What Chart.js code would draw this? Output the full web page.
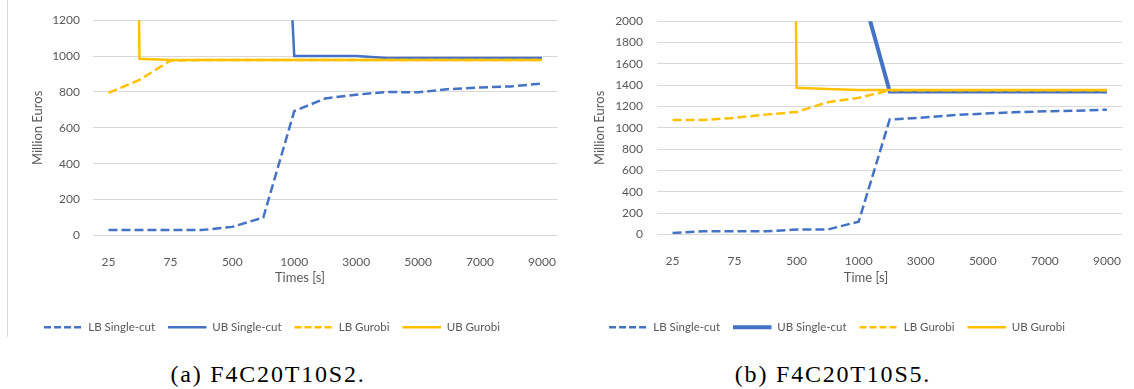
<!DOCTYPE html>
<html>
<head>
<meta charset="utf-8">
<script src="https://cdn.jsdelivr.net/npm/chart.js@4.4.1/dist/chart.umd.min.js"></script>
<style>
  body { margin: 0; width: 1134px; height: 389px; overflow: hidden; background: #fff; position: relative; }
  canvas { position: absolute; top: 0; }
  #chartA { left: -19px; }
  #chartB { left: 546px; }
  .frame { position: absolute; left: 7px; top: 0; height: 337px; border-left: 1px solid #d9d9d9; }
  .xtitle { position: absolute; top: 269px; font: 13px Lato; color: #595959; transform: translateX(-50%); white-space: nowrap; }
  .caption { position: absolute; top: 362px; font: 24px 'Liberation Serif'; letter-spacing: 1.8px; line-height: 24px; color: #000; transform: translateX(-50%); white-space: nowrap; }
</style>
</head>
<body>
<div class="frame"></div>
<canvas id="chartA" width="586" height="343"></canvas>
<canvas id="chartB" width="586" height="343"></canvas>
<div class="xtitle" style="left:300px">Times [s]</div>
<div class="xtitle" style="left:866px">Time [s]</div>
<div class="caption" style="left:268px">(a) F4C20T10S2.</div>
<div class="caption" style="left:833px">(b) F4C20T10S5.</div>
<script>
// time steps on the x axis (every other one is labelled)
const times = ['25', '50', '75', '100', '500', '750', '1000', '2000', '3000', '4000', '5000', '6000', '7000', '8000', '9000'];

// (a) F4C20T10S2
const lbSingleA = [30, 30, 30, 30, 48, 100, 693, 764, 785, 800, 798, 816, 825, 831, 847];
const ubSingleA = [null, null, null, null, null, 4500, 1000, 1000, 1000, 990, 990, 990, 990, 990, 990];
const lbGurobiA = [795, 867, 975, 978, 978, 978, 978, 978, 978, 978, 978, 978, 978, 978, 978];
const ubGurobiA = [20000, 985, 978, 978, 978, 978, 978, 978, 978, 978, 978, 978, 978, 978, 978];
const yMaxA = 1200;

// (b) F4C20T10S5
const lbSingleB = [15, 30, 30, 30, 46, 46, 121, 1079, 1094, 1118, 1134, 1146, 1155, 1161, 1170];
const ubSingleB = [null, null, null, null, null, null, 2390, 1340, 1340, 1340, 1340, 1340, 1340, 1340, 1340];
const lbGurobiB = [1073, 1073, 1094, 1124, 1149, 1240, 1282, 1352, 1352, 1352, 1352, 1352, 1352, 1352, 1352];
const ubGurobiB = [null, null, null, 30000, 1375, 1365, 1355, 1355, 1355, 1355, 1355, 1355, 1355, 1355, 1355];
const yMaxB = 2000;

const yStep = 200;
const BLUE = '#4472C4', GOLD = '#FFC000', TEXT = '#595959', GRID = '#D9D9D9';

function line(label, data, color, dash, width, order) {
    return {
        label, data, order,
        borderColor: color, backgroundColor: color,
        borderDash: dash, borderWidth: width,
        pointRadius: 0, pointHoverRadius: 0, tension: 0, fill: false
    };
}

function makeChart(id, series, o) {
    return new Chart(document.getElementById(id), {
        type: 'line',
        data: {
            labels: times,
            datasets: [
                line('LB Single-cut', series[0], BLUE, [9, 4], 2.5, 3),
                line('UB Single-cut', series[1], BLUE, [], o.ubWidth, 2),
                line('LB Gurobi', series[2], GOLD, [9, 4], 2.5, 1),
                line('UB Gurobi', series[3], GOLD, [], 2.5, 0)
            ]
        },
        options: {
            responsive: false,
            animation: false,
            events: [],
            layout: { padding: { top: 14, right: 4, left: 0, bottom: 0 } },
            scales: {
                x: {
                    type: 'category',
                    offset: true,
                    afterFit: s => { s.height = o.xHeight; },
                    grid: { display: false },
                    border: { display: false },
                    ticks: {
                        autoSkip: false, maxRotation: 0, padding: 11,
                        color: TEXT, font: { family: 'Lato', size: 12 },
                        callback(v, i) { return i % 2 === 0 ? this.getLabelForValue(v) : ''; }
                    }
                },
                y: {
                    min: 0, max: o.yMax,
                    afterFit: s => { s.width = o.yWidth; },
                    grid: { color: GRID, lineWidth: 1, drawTicks: false },
                    border: { display: false },
                    ticks: {
                        stepSize: yStep, padding: o.tickPad, color: TEXT, font: { family: 'Lato', size: 12 },
                        callback: v => String(v)
                    },
                    title: {
                        display: true, text: 'Million Euros', color: TEXT,
                        font: { family: 'Lato', size: 13 },
                        padding: { top: o.titlePad, bottom: 0 }
                    }
                }
            },
            plugins: {
                tooltip: { enabled: false },
                legend: {
                    position: 'bottom',
                    labels: {
                        color: TEXT, font: { family: 'Lato', size: 11.5 },
                        padding: 13,
                        // zero-height box: stroked as a line sample (dash period 10, width 38.5 keeps both passes aligned)
                        boxWidth: 38.5, boxHeight: 0,
                        generateLabels(chart) {
                            const items = Chart.defaults.plugins.legend.labels.generateLabels(chart);
                            items.forEach(it => { if (it.lineDash && it.lineDash.length) it.lineDash = [7, 3]; });
                            return items.sort((a, b) => a.datasetIndex - b.datasetIndex);
                        }
                    }
                }
            }
        }
    });
}

makeChart('chartA', [lbSingleA, ubSingleA, lbGurobiA, ubGurobiA],
    { yMax: yMaxA, yWidth: 112, tickPad: 13, titlePad: 49, xHeight: 73, ubWidth: 2.5 });
makeChart('chartB', [lbSingleB, ubSingleB, lbGurobiB, ubGurobiB],
    { yMax: yMaxB, yWidth: 111, tickPad: 14, titlePad: 46, xHeight: 74, ubWidth: 4 });
</script>
</body>
</html>
